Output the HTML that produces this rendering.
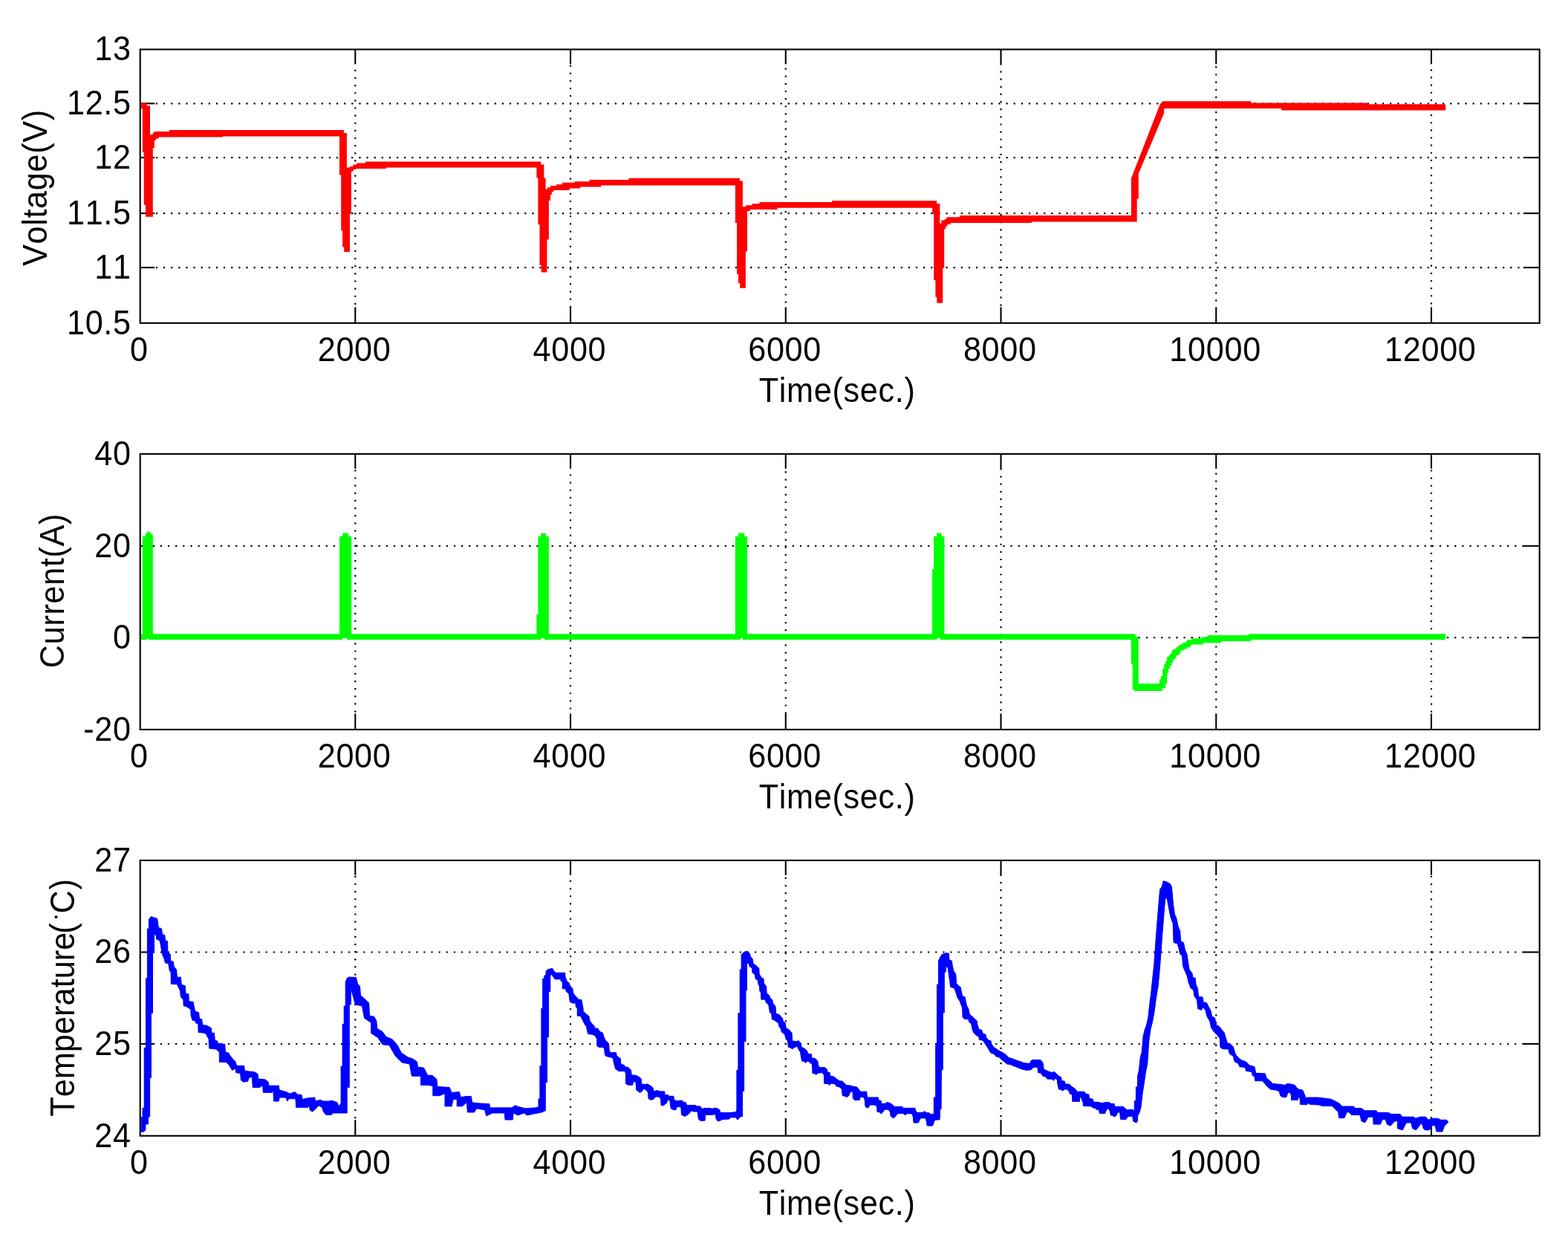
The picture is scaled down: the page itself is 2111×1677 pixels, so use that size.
<!DOCTYPE html>
<html><head><meta charset="utf-8"><title>Battery test: voltage, current, temperature</title>
<style>
html,body{margin:0;padding:0;background:#fff;overflow:hidden;}
svg{display:block;}
text{font-family:"Liberation Sans",sans-serif;font-size:47.0px;fill:#000;font-kerning:none;letter-spacing:0.72px;}
.a{stroke:#000;stroke-width:2.10;}
.g{stroke:#000;stroke-width:2.20;stroke-dasharray:2.20 7.93;}
</style></head><body>
<svg width="2111" height="1677" viewBox="0 0 2111 1677">
<rect width="2111" height="1677" fill="#fff"/>
<line x1="208.00" y1="139.30" x2="2051.20" y2="139.30" class="g" stroke-dashoffset="8.30"/>
<line x1="208.00" y1="212.10" x2="2051.20" y2="212.10" class="g" stroke-dashoffset="8.30"/>
<line x1="208.00" y1="287.10" x2="2051.20" y2="287.10" class="g" stroke-dashoffset="8.30"/>
<line x1="208.00" y1="360.10" x2="2051.20" y2="360.10" class="g" stroke-dashoffset="8.30"/>
<line x1="478.30" y1="86.00" x2="478.30" y2="413.70" class="g" stroke-dashoffset="2.38"/>
<line x1="768.04" y1="86.00" x2="768.04" y2="413.70" class="g" stroke-dashoffset="8.56"/>
<line x1="1057.78" y1="86.00" x2="1057.78" y2="413.70" class="g" stroke-dashoffset="4.61"/>
<line x1="1347.52" y1="86.00" x2="1347.52" y2="413.70" class="g" stroke-dashoffset="0.66"/>
<line x1="1637.26" y1="86.00" x2="1637.26" y2="413.70" class="g" stroke-dashoffset="6.84"/>
<line x1="1927.00" y1="86.00" x2="1927.00" y2="413.70" class="g" stroke-dashoffset="2.89"/>
<line x1="188.7" y1="139.30" x2="208.2" y2="139.30" class="a"/>
<line x1="2051.0" y1="139.30" x2="2072.7" y2="139.30" class="a"/>
<line x1="188.7" y1="212.10" x2="208.2" y2="212.10" class="a"/>
<line x1="2051.0" y1="212.10" x2="2072.7" y2="212.10" class="a"/>
<line x1="188.7" y1="287.10" x2="208.2" y2="287.10" class="a"/>
<line x1="2051.0" y1="287.10" x2="2072.7" y2="287.10" class="a"/>
<line x1="188.7" y1="360.10" x2="208.2" y2="360.10" class="a"/>
<line x1="2051.0" y1="360.10" x2="2072.7" y2="360.10" class="a"/>
<line x1="478.30" y1="66.5" x2="478.30" y2="86.3" class="a"/>
<line x1="478.30" y1="413.4" x2="478.30" y2="434.8" class="a"/>
<line x1="768.04" y1="66.5" x2="768.04" y2="86.3" class="a"/>
<line x1="768.04" y1="413.4" x2="768.04" y2="434.8" class="a"/>
<line x1="1057.78" y1="66.5" x2="1057.78" y2="86.3" class="a"/>
<line x1="1057.78" y1="413.4" x2="1057.78" y2="434.8" class="a"/>
<line x1="1347.52" y1="66.5" x2="1347.52" y2="86.3" class="a"/>
<line x1="1347.52" y1="413.4" x2="1347.52" y2="434.8" class="a"/>
<line x1="1637.26" y1="66.5" x2="1637.26" y2="86.3" class="a"/>
<line x1="1637.26" y1="413.4" x2="1637.26" y2="434.8" class="a"/>
<line x1="1927.00" y1="66.5" x2="1927.00" y2="86.3" class="a"/>
<line x1="1927.00" y1="413.4" x2="1927.00" y2="434.8" class="a"/>
<rect x="188.7" y="66.5" width="1884.0" height="368.3" fill="none" class="a"/>
<line x1="208.00" y1="734.80" x2="2051.20" y2="734.80" class="g" stroke-dashoffset="2.28"/>
<line x1="208.00" y1="858.20" x2="2051.20" y2="858.20" class="g" stroke-dashoffset="2.28"/>
<line x1="478.30" y1="630.50" x2="478.30" y2="960.80" class="g" stroke-dashoffset="8.34"/>
<line x1="768.04" y1="630.50" x2="768.04" y2="960.80" class="g" stroke-dashoffset="2.24"/>
<line x1="1057.78" y1="630.50" x2="1057.78" y2="960.80" class="g" stroke-dashoffset="6.27"/>
<line x1="1347.52" y1="630.50" x2="1347.52" y2="960.80" class="g" stroke-dashoffset="0.17"/>
<line x1="1637.26" y1="630.50" x2="1637.26" y2="960.80" class="g" stroke-dashoffset="4.20"/>
<line x1="1927.00" y1="630.50" x2="1927.00" y2="960.80" class="g" stroke-dashoffset="8.23"/>
<line x1="188.7" y1="734.80" x2="208.2" y2="734.80" class="a"/>
<line x1="2051.0" y1="734.80" x2="2072.7" y2="734.80" class="a"/>
<line x1="188.7" y1="858.20" x2="208.2" y2="858.20" class="a"/>
<line x1="2051.0" y1="858.20" x2="2072.7" y2="858.20" class="a"/>
<line x1="478.30" y1="611.0" x2="478.30" y2="630.8" class="a"/>
<line x1="478.30" y1="960.5" x2="478.30" y2="981.9" class="a"/>
<line x1="768.04" y1="611.0" x2="768.04" y2="630.8" class="a"/>
<line x1="768.04" y1="960.5" x2="768.04" y2="981.9" class="a"/>
<line x1="1057.78" y1="611.0" x2="1057.78" y2="630.8" class="a"/>
<line x1="1057.78" y1="960.5" x2="1057.78" y2="981.9" class="a"/>
<line x1="1347.52" y1="611.0" x2="1347.52" y2="630.8" class="a"/>
<line x1="1347.52" y1="960.5" x2="1347.52" y2="981.9" class="a"/>
<line x1="1637.26" y1="611.0" x2="1637.26" y2="630.8" class="a"/>
<line x1="1637.26" y1="960.5" x2="1637.26" y2="981.9" class="a"/>
<line x1="1927.00" y1="611.0" x2="1927.00" y2="630.8" class="a"/>
<line x1="1927.00" y1="960.5" x2="1927.00" y2="981.9" class="a"/>
<rect x="188.7" y="611.0" width="1884.0" height="370.9" fill="none" class="a"/>
<line x1="208.00" y1="1281.50" x2="2051.20" y2="1281.50" class="g" stroke-dashoffset="2.35"/>
<line x1="208.00" y1="1405.00" x2="2051.20" y2="1405.00" class="g" stroke-dashoffset="2.35"/>
<line x1="478.30" y1="1177.50" x2="478.30" y2="1507.60" class="g" stroke-dashoffset="8.86"/>
<line x1="768.04" y1="1177.50" x2="768.04" y2="1507.60" class="g" stroke-dashoffset="2.76"/>
<line x1="1057.78" y1="1177.50" x2="1057.78" y2="1507.60" class="g" stroke-dashoffset="6.79"/>
<line x1="1347.52" y1="1177.50" x2="1347.52" y2="1507.60" class="g" stroke-dashoffset="0.69"/>
<line x1="1637.26" y1="1177.50" x2="1637.26" y2="1507.60" class="g" stroke-dashoffset="4.72"/>
<line x1="1927.00" y1="1177.50" x2="1927.00" y2="1507.60" class="g" stroke-dashoffset="8.75"/>
<line x1="188.7" y1="1281.50" x2="208.2" y2="1281.50" class="a"/>
<line x1="2051.0" y1="1281.50" x2="2072.7" y2="1281.50" class="a"/>
<line x1="188.7" y1="1405.00" x2="208.2" y2="1405.00" class="a"/>
<line x1="2051.0" y1="1405.00" x2="2072.7" y2="1405.00" class="a"/>
<line x1="478.30" y1="1158.0" x2="478.30" y2="1177.8" class="a"/>
<line x1="478.30" y1="1507.3" x2="478.30" y2="1528.7" class="a"/>
<line x1="768.04" y1="1158.0" x2="768.04" y2="1177.8" class="a"/>
<line x1="768.04" y1="1507.3" x2="768.04" y2="1528.7" class="a"/>
<line x1="1057.78" y1="1158.0" x2="1057.78" y2="1177.8" class="a"/>
<line x1="1057.78" y1="1507.3" x2="1057.78" y2="1528.7" class="a"/>
<line x1="1347.52" y1="1158.0" x2="1347.52" y2="1177.8" class="a"/>
<line x1="1347.52" y1="1507.3" x2="1347.52" y2="1528.7" class="a"/>
<line x1="1637.26" y1="1158.0" x2="1637.26" y2="1177.8" class="a"/>
<line x1="1637.26" y1="1507.3" x2="1637.26" y2="1528.7" class="a"/>
<line x1="1927.00" y1="1158.0" x2="1927.00" y2="1177.8" class="a"/>
<line x1="1927.00" y1="1507.3" x2="1927.00" y2="1528.7" class="a"/>
<rect x="188.7" y="1158.0" width="1884.0" height="370.7" fill="none" class="a"/>
<path d="M189.9 138.5 L197.7 138.5 L197.7 142.3 L202.0 142.3 L202.0 181.2 L205.8 181.2 L205.8 178.5 L207.9 178.5 L207.9 176.9 L228.1 176.9 L228.1 175.0 L462.9 175.0 L462.9 179.0 L466.9 179.0 L466.9 225.5 L471.0 225.5 L471.0 223.9 L475.3 223.9 L475.3 221.4 L480.1 221.4 L480.1 219.6 L491.9 219.6 L491.9 217.5 L728.3 217.5 L728.3 221.5 L732.4 221.5 L732.4 239.6 L734.6 239.6 L734.6 254.4 L736.9 254.4 L736.9 252.3 L741.0 252.3 L741.0 250.1 L749.0 250.1 L749.0 248.3 L757.1 248.3 L757.1 245.8 L773.7 245.8 L773.7 244.2 L793.6 244.2 L793.6 242.1 L846.6 242.1 L846.6 239.7 L996.0 239.7 L996.0 243.6 L999.9 243.6 L999.9 278.3 L1004.2 278.3 L1004.2 276.2 L1012.3 276.2 L1012.3 274.2 L1022.5 274.2 L1022.5 272.1 L1120.2 272.1 L1120.2 270.3 L1261.2 270.3 L1261.2 274.1 L1265.3 274.1 L1265.3 300.7 L1267.4 300.7 L1267.4 296.4 L1271.7 296.4 L1271.7 294.8 L1274.4 294.8 L1274.4 292.3 L1292.1 292.3 L1292.1 290.1 L1522.9 290.1 L1522.9 240.2 L1561.6 140.4 L1565.4 136.3 L1565.4 136.3 L1684.5 136.3 L1684.5 138.5 L1842.3 138.5 L1842.3 140.3 L1946.2 140.3 L1946.2 140.3 L1946.2 148.5 L1946.2 148.5 L1725.3 148.5 L1725.3 146.1 L1567.2 146.1 L1567.2 146.1 L1567.2 152.2 L1532.8 233.8 L1532.8 267.6 L1530.7 267.6 L1530.7 298.4 L1388.8 298.4 L1388.8 300.1 L1279.8 300.1 L1279.8 302.1 L1275.5 302.1 L1275.5 304.4 L1273.3 304.4 L1273.3 308.2 L1271.2 308.2 L1271.2 360.8 L1269.3 360.8 L1269.3 407.7 L1261.3 407.7 L1261.3 399.8 L1259.4 399.8 L1259.4 376.9 L1257.2 376.9 L1257.2 287.8 L1255.1 287.8 L1255.1 279.7 L1046.6 279.7 L1046.6 281.9 L1010.1 281.9 L1010.1 283.9 L1006.0 283.9 L1006.0 338.6 L1003.9 338.6 L1003.9 387.8 L996.2 387.8 L996.2 381.0 L994.0 381.0 L994.0 369.0 L992.1 369.0 L992.1 300.0 L989.9 300.0 L989.9 249.6 L809.2 249.6 L809.2 251.5 L781.3 251.5 L781.3 253.6 L766.8 253.6 L766.8 256.0 L745.3 256.0 L745.3 258.2 L742.9 258.2 L742.9 261.9 L741.0 261.9 L741.0 270.0 L738.9 270.0 L738.9 322.6 L736.4 322.6 L736.4 366.6 L728.7 366.6 L728.7 357.0 L726.5 357.0 L726.5 302.2 L724.4 302.2 L724.4 239.4 L722.4 239.4 L722.4 225.4 L519.8 225.4 L519.8 227.1 L477.0 227.1 L477.0 228.7 L475.0 228.7 L475.0 230.9 L472.9 230.9 L472.9 287.8 L471.0 287.8 L471.0 338.9 L463.2 338.9 L463.2 332.6 L461.1 332.6 L461.1 310.3 L459.2 310.3 L459.2 235.5 L457.0 235.5 L457.0 183.5 L300.0 183.5 L300.0 184.6 L213.8 184.6 L213.8 186.6 L210.1 186.6 L210.1 188.7 L207.9 188.7 L207.9 198.9 L205.8 198.9 L205.8 291.8 L195.9 291.8 L195.9 275.7 L193.7 275.7 L193.7 204.8 L191.8 204.8 L191.8 146.3 L189.9 146.3 Z" fill="#ff0000"/>
<path d="M189.9 853.3 L191.8 853.3 L191.8 721.8 L195.9 721.8 L195.9 717.7 L198.0 717.7 L198.0 715.6 L202.0 715.6 L202.0 717.7 L203.8 717.7 L203.8 719.6 L205.8 719.6 L205.8 853.3 L457.0 853.3 L457.0 721.8 L461.1 721.8 L461.1 717.4 L469.2 717.4 L469.2 721.8 L473.1 721.8 L473.1 853.3 L722.4 853.3 L722.4 827.0 L724.4 827.0 L724.4 721.8 L728.4 721.8 L728.4 717.4 L734.9 717.4 L734.9 721.8 L738.9 721.8 L738.9 853.3 L989.9 853.3 L989.9 721.8 L994.0 721.8 L994.0 717.4 L1002.1 717.4 L1002.1 721.8 L1006.0 721.8 L1006.0 853.3 L1255.1 853.3 L1255.1 766.0 L1257.2 766.0 L1257.2 721.8 L1261.2 721.8 L1261.2 717.4 L1267.7 717.4 L1267.7 721.8 L1271.4 721.8 L1271.4 853.3 L1528.7 853.3 L1528.7 857.0 L1532.7 857.0 L1532.7 920.0 L1561.0 920.0 L1561.0 914.3 L1563.1 914.3 L1563.1 910.0 L1565.1 910.0 L1565.1 900.1 L1567.2 900.1 L1567.2 894.0 L1569.2 894.0 L1569.2 889.8 L1571.2 889.8 L1571.2 883.7 L1573.5 883.7 L1573.5 881.9 L1575.2 881.9 L1575.2 879.8 L1577.4 879.8 L1577.4 875.5 L1579.5 875.5 L1579.5 873.4 L1583.4 873.4 L1583.4 871.3 L1585.5 871.3 L1585.5 869.5 L1587.7 869.5 L1587.7 867.4 L1591.9 867.4 L1591.9 865.2 L1595.8 865.2 L1595.8 863.5 L1598.0 863.5 L1598.0 861.3 L1604.0 861.3 L1604.0 859.2 L1617.9 859.2 L1617.9 857.2 L1626.0 857.2 L1626.0 855.1 L1680.8 855.1 L1680.8 853.3 L1946.2 853.3 L1946.2 853.3 L1946.2 861.0 L1946.2 861.0 L1684.7 861.0 L1684.7 863.1 L1644.2 863.1 L1644.2 865.2 L1620.0 865.2 L1620.0 867.6 L1604.0 867.6 L1604.0 869.5 L1601.9 869.5 L1601.9 871.6 L1597.6 871.6 L1597.6 873.8 L1593.7 873.8 L1593.7 875.5 L1589.4 875.5 L1589.4 879.8 L1587.3 879.8 L1587.3 881.9 L1583.4 881.9 L1583.4 885.8 L1581.3 885.8 L1581.3 888.0 L1579.3 888.0 L1579.3 891.9 L1577.4 891.9 L1577.4 895.9 L1575.2 895.9 L1575.2 899.9 L1573.2 899.9 L1573.2 906.0 L1571.2 906.0 L1571.2 920.0 L1569.2 920.0 L1569.2 926.0 L1565.1 926.0 L1565.1 930.0 L1526.5 930.0 L1526.5 928.0 L1524.8 928.0 L1524.8 893.5 L1522.8 893.5 L1522.8 861.0 L1265.8 861.0 L1265.8 859.0 L1261.2 859.0 L1261.2 861.0 L999.9 861.0 L999.9 859.0 L996.0 859.0 L996.0 861.0 L732.9 861.0 L732.9 859.0 L728.4 859.0 L728.4 861.0 L467.2 861.0 L467.2 859.0 L461.1 859.0 L461.1 861.0 L199.9 861.0 L199.9 859.2 L197.7 859.2 L197.7 861.0 L189.9 861.0 Z" fill="#00ff00"/>
<path d="M190.3 1503.5 L192.0 1503.5 L192.0 1491.3 L194.2 1491.3 L194.2 1410.3 L196.4 1410.3 L196.4 1316.8 L198.4 1316.8 L198.4 1250.0 L200.4 1250.0 L200.4 1237.5 L203.4 1233.7 L211.7 1236.4 L213.4 1248.4 L217.6 1250.0 L218.4 1257.6 L221.7 1258.4 L222.6 1265.9 L225.6 1266.7 L225.9 1281.8 L229.2 1284.3 L229.7 1293.4 L233.4 1294.3 L234.2 1301.0 L237.6 1305.1 L238.4 1315.2 L243.4 1315.2 L244.3 1325.2 L249.3 1326.8 L250.1 1337.7 L253.9 1337.7 L254.3 1347.7 L260.1 1348.5 L261.0 1353.5 L262.6 1361.1 L267.6 1362.7 L268.5 1371.1 L271.8 1371.9 L272.6 1379.4 L278.5 1380.3 L284.3 1383.6 L285.2 1390.3 L288.5 1390.3 L289.3 1400.3 L292.7 1401.1 L293.5 1404.5 L302.7 1405.3 L303.5 1416.2 L307.7 1417.0 L309.4 1420.3 L312.7 1424.5 L316.9 1428.7 L318.6 1434.5 L328.6 1434.5 L329.4 1441.2 L335.3 1442.0 L342.8 1442.9 L346.9 1445.4 L347.8 1452.0 L357.0 1452.9 L361.1 1456.2 L362.0 1461.2 L375.3 1461.2 L376.2 1467.1 L385.3 1469.6 L390.3 1472.1 L397.0 1469.6 L400.4 1472.9 L406.2 1473.7 L407.0 1479.6 L414.5 1477.9 L423.7 1477.1 L424.6 1482.1 L431.2 1480.4 L435.4 1482.1 L442.9 1482.1 L447.1 1481.3 L453.8 1483.8 L455.5 1487.9 L458.0 1487.9 L458.0 1485.8 L459.1 1485.8 L459.1 1435.2 L461.1 1435.2 L461.1 1378.4 L463.2 1378.4 L463.2 1354.1 L465.2 1354.1 L465.2 1321.6 L467.2 1316.6 L470.3 1315.1 L479.4 1315.5 L481.4 1323.7 L484.5 1327.7 L485.5 1339.9 L490.5 1343.9 L496.6 1350.0 L497.6 1367.2 L503.7 1368.3 L506.8 1374.3 L507.8 1384.5 L514.9 1388.5 L519.9 1395.6 L528.0 1398.7 L535.1 1406.8 L540.2 1416.9 L549.3 1423.0 L555.4 1425.0 L561.5 1429.1 L562.5 1436.2 L570.6 1437.2 L575.7 1447.3 L581.8 1447.3 L587.8 1452.4 L588.9 1462.5 L605.1 1463.5 L608.1 1470.6 L618.3 1469.6 L620.3 1476.7 L626.4 1475.7 L634.5 1475.7 L635.5 1483.8 L642.6 1484.8 L658.8 1485.8 L659.8 1490.9 L689.2 1490.9 L693.3 1487.9 L699.3 1489.9 L707.4 1491.9 L721.6 1490.9 L722.0 1490.2 L722.0 1490.4 L725.0 1490.4 L725.0 1478.9 L726.9 1478.9 L726.9 1434.6 L728.9 1434.6 L728.9 1357.3 L730.7 1357.3 L730.7 1317.2 L732.9 1317.2 L732.9 1312.9 L735.0 1312.9 L735.0 1307.2 L737.2 1305.0 L743.6 1303.2 L745.8 1307.2 L748.6 1309.3 L760.8 1309.3 L760.8 1313.6 L762.9 1320.1 L766.5 1323.6 L767.2 1328.6 L770.8 1330.1 L771.5 1335.8 L773.7 1339.4 L776.5 1342.2 L778.7 1345.1 L783.0 1345.8 L783.7 1350.1 L785.1 1357.3 L785.1 1360.8 L788.7 1364.4 L793.0 1368.0 L793.7 1373.0 L795.9 1376.6 L799.4 1380.2 L801.6 1384.5 L804.4 1383.7 L808.0 1388.8 L811.6 1390.2 L813.0 1395.9 L815.2 1400.2 L819.5 1404.5 L820.2 1413.1 L821.6 1416.7 L829.5 1416.7 L830.2 1421.0 L835.2 1424.5 L835.9 1432.4 L839.5 1433.1 L842.4 1436.0 L845.9 1436.7 L849.5 1440.3 L850.2 1446.7 L856.0 1447.4 L859.5 1448.9 L863.1 1451.7 L863.8 1458.9 L868.8 1459.6 L871.7 1458.9 L875.3 1461.0 L878.9 1463.9 L880.3 1468.9 L884.6 1467.5 L888.2 1468.9 L894.6 1468.9 L895.3 1474.6 L898.2 1473.2 L901.1 1475.3 L906.8 1475.3 L907.5 1480.4 L911.1 1481.8 L918.2 1481.1 L919.7 1483.2 L923.2 1483.9 L924.7 1487.5 L933.3 1487.5 L936.1 1487.5 L938.3 1488.9 L942.6 1488.9 L945.4 1492.5 L948.3 1491.5 L956.2 1491.5 L959.0 1492.5 L961.9 1491.1 L965.5 1491.8 L969.0 1494.0 L969.7 1497.5 L977.6 1497.5 L981.9 1497.5 L990.5 1496.8 L991.5 1494.7 L991.5 1496.4 L991.9 1496.4 L991.9 1440.5 L993.9 1440.5 L993.9 1363.8 L996.2 1363.8 L996.2 1304.9 L998.1 1304.9 L998.1 1284.7 L1002.4 1280.9 L1006.3 1280.5 L1009.4 1283.2 L1010.2 1287.1 L1013.3 1290.9 L1014.0 1297.1 L1017.9 1299.5 L1021.8 1303.3 L1022.2 1311.1 L1024.9 1315.7 L1028.0 1317.3 L1028.4 1323.5 L1031.6 1327.4 L1032.2 1336.7 L1035.7 1339.8 L1036.5 1342.9 L1039.9 1346.0 L1040.4 1349.8 L1044.0 1354.5 L1044.6 1363.8 L1049.7 1366.1 L1053.6 1370.8 L1054.3 1374.7 L1057.4 1377.0 L1058.2 1384.0 L1062.1 1385.5 L1066.0 1390.2 L1066.7 1401.0 L1072.9 1401.8 L1074.5 1400.2 L1078.4 1404.1 L1079.1 1409.5 L1083.0 1411.1 L1086.9 1415.0 L1087.4 1418.1 L1092.3 1418.8 L1093.1 1424.3 L1097.0 1424.3 L1100.9 1428.1 L1101.3 1432.8 L1103.2 1436.7 L1110.2 1436.7 L1113.3 1439.0 L1114.0 1442.9 L1117.1 1443.6 L1117.9 1448.3 L1122.6 1449.1 L1126.4 1452.2 L1129.5 1454.5 L1134.2 1455.3 L1136.5 1457.6 L1139.6 1460.7 L1145.0 1461.0 L1148.1 1462.2 L1153.6 1463.0 L1157.4 1467.7 L1158.2 1469.2 L1166.7 1469.2 L1167.5 1477.0 L1182.2 1477.0 L1183.0 1480.9 L1186.1 1481.6 L1186.9 1485.5 L1191.6 1485.2 L1194.7 1483.6 L1200.1 1485.5 L1203.2 1488.6 L1204.0 1489.4 L1214.8 1489.4 L1215.6 1491.4 L1231.9 1491.4 L1232.6 1494.8 L1235.0 1497.6 L1243.5 1497.1 L1244.3 1495.6 L1247.4 1497.6 L1251.2 1497.9 L1252.0 1499.5 L1257.0 1499.5 L1257.0 1499.5 L1257.3 1499.5 L1257.3 1477.0 L1259.7 1477.0 L1259.7 1404.1 L1261.5 1404.1 L1261.5 1325.0 L1263.5 1325.0 L1263.5 1293.3 L1265.5 1288.6 L1268.2 1284.7 L1273.6 1282.7 L1277.5 1283.2 L1277.9 1291.7 L1281.4 1293.3 L1282.1 1298.7 L1283.7 1306.4 L1286.8 1311.1 L1287.6 1323.5 L1290.3 1326.6 L1293.4 1328.9 L1294.1 1333.6 L1295.6 1340.5 L1299.2 1342.1 L1300.0 1346.7 L1301.5 1353.7 L1303.8 1357.6 L1305.4 1365.3 L1309.3 1368.4 L1312.4 1371.6 L1315.2 1373.9 L1315.8 1378.5 L1317.8 1385.5 L1321.7 1386.3 L1323.2 1390.9 L1327.1 1392.5 L1327.9 1396.4 L1331.0 1400.2 L1334.1 1401.0 L1334.8 1404.9 L1337.9 1409.5 L1341.8 1411.9 L1344.9 1414.2 L1349.6 1416.5 L1353.4 1418.8 L1358.1 1423.5 L1363.5 1425.0 L1369.0 1427.4 L1374.4 1428.9 L1377.5 1430.5 L1382.9 1431.2 L1386.8 1431.2 L1387.6 1428.1 L1389.9 1426.6 L1400.7 1426.6 L1403.1 1428.9 L1404.6 1432.8 L1405.1 1439.0 L1408.5 1440.5 L1411.6 1442.1 L1416.2 1443.6 L1419.3 1442.4 L1422.4 1445.2 L1425.5 1448.3 L1428.6 1449.8 L1429.4 1454.5 L1433.3 1455.3 L1434.1 1459.1 L1439.5 1459.1 L1442.6 1462.2 L1447.2 1465.3 L1450.3 1469.2 L1459.7 1469.2 L1462.0 1472.3 L1465.9 1473.1 L1466.6 1478.5 L1471.3 1479.3 L1472.1 1483.2 L1479.8 1483.6 L1482.9 1484.7 L1489.1 1483.6 L1494.5 1484.0 L1495.3 1485.5 L1500.0 1485.5 L1500.7 1489.4 L1512.4 1489.4 L1515.5 1492.5 L1517.8 1494.0 L1524.8 1493.3 L1527.1 1495.6 L1527.4 1481.6 L1529.4 1481.6 L1529.4 1463.0 L1531.3 1463.0 L1531.5 1453.6 L1531.5 1448.9 L1533.4 1440.5 L1535.3 1422.4 L1537.2 1416.6 L1539.1 1394.7 L1541.4 1385.2 L1543.3 1380.4 L1545.8 1369.9 L1547.7 1351.8 L1549.6 1337.4 L1551.5 1319.3 L1553.8 1297.4 L1555.7 1270.6 L1557.6 1245.8 L1559.5 1222.0 L1561.6 1197.2 L1564.3 1193.4 L1566.2 1185.7 L1570.0 1186.7 L1575.3 1189.5 L1577.3 1193.4 L1578.2 1201.9 L1579.5 1217.2 L1581.5 1230.6 L1583.9 1236.3 L1585.8 1245.8 L1588.7 1253.5 L1589.7 1266.8 L1593.5 1268.7 L1595.4 1278.3 L1598.2 1285.0 L1599.2 1292.6 L1601.1 1305.0 L1604.9 1309.8 L1605.9 1315.5 L1609.3 1316.5 L1610.1 1325.0 L1612.6 1330.8 L1613.5 1341.3 L1619.2 1342.2 L1620.2 1348.9 L1624.6 1349.8 L1626.9 1354.6 L1629.7 1359.4 L1631.6 1368.0 L1635.5 1369.9 L1637.4 1379.4 L1641.2 1381.3 L1645.0 1386.1 L1648.2 1389.9 L1650.7 1398.5 L1652.6 1404.2 L1656.5 1405.2 L1660.3 1409.0 L1663.1 1418.5 L1666.9 1423.3 L1671.7 1427.1 L1677.4 1429.0 L1682.2 1433.8 L1688.9 1435.7 L1690.8 1444.3 L1703.2 1444.9 L1705.1 1451.0 L1709.9 1454.8 L1713.7 1458.6 L1724.2 1459.6 L1729.9 1460.5 L1732.8 1458.6 L1737.6 1459.0 L1743.3 1460.5 L1746.1 1464.4 L1749.0 1466.3 L1753.8 1467.2 L1756.6 1473.9 L1757.6 1477.7 L1760.0 1477.7 L1760.0 1477.1 L1774.6 1477.1 L1791.3 1479.2 L1796.0 1481.3 L1800.1 1483.4 L1803.8 1485.5 L1806.4 1489.1 L1822.5 1489.1 L1824.6 1491.7 L1833.0 1491.7 L1837.1 1494.8 L1852.8 1494.8 L1854.8 1497.4 L1868.9 1497.4 L1873.1 1499.5 L1885.1 1499.5 L1887.7 1503.2 L1903.3 1503.2 L1905.9 1505.3 L1912.2 1503.2 L1919.5 1503.2 L1922.6 1507.3 L1927.8 1505.3 L1935.6 1505.3 L1939.8 1507.3 L1947.6 1507.3 L1949.7 1510.0 L1949.7 1510.5 L1944.5 1515.7 L1941.9 1523.0 L1934.0 1523.0 L1932.0 1514.6 L1928.8 1514.6 L1924.1 1520.9 L1918.4 1520.9 L1916.3 1518.8 L1914.2 1511.0 L1906.4 1520.9 L1901.7 1518.8 L1899.7 1511.0 L1893.4 1511.0 L1888.2 1520.9 L1881.4 1518.8 L1881.4 1508.9 L1877.8 1508.9 L1872.0 1515.2 L1867.3 1513.1 L1865.3 1506.8 L1861.1 1506.8 L1858.5 1513.1 L1849.1 1513.1 L1848.6 1503.2 L1842.3 1503.2 L1837.6 1511.0 L1833.0 1508.9 L1830.9 1500.6 L1819.4 1500.6 L1816.3 1496.9 L1813.2 1496.9 L1810.0 1504.7 L1802.7 1504.7 L1801.7 1496.9 L1793.4 1488.6 L1779.8 1488.6 L1776.2 1487.0 L1764.2 1486.5 L1760.0 1484.4 L1760.0 1486.3 L1758.5 1486.9 L1750.5 1486.3 L1750.0 1477.7 L1748.1 1476.8 L1747.1 1480.6 L1738.5 1480.6 L1738.5 1474.8 L1736.6 1470.1 L1733.7 1471.0 L1731.8 1476.8 L1727.1 1476.8 L1723.8 1474.8 L1722.3 1469.1 L1718.5 1467.2 L1710.8 1466.3 L1706.1 1462.4 L1702.3 1457.7 L1699.4 1454.8 L1689.8 1454.8 L1688.9 1449.1 L1686.0 1447.2 L1685.1 1442.4 L1677.4 1441.5 L1676.5 1436.7 L1668.9 1435.7 L1666.9 1431.0 L1662.2 1429.0 L1660.3 1421.4 L1655.5 1418.5 L1653.6 1411.9 L1646.9 1411.9 L1643.1 1410.0 L1642.1 1397.6 L1639.3 1393.7 L1634.5 1389.0 L1630.7 1383.2 L1628.8 1374.7 L1625.0 1368.0 L1623.1 1360.3 L1620.2 1355.6 L1617.3 1359.4 L1612.6 1357.5 L1611.6 1346.0 L1607.8 1340.3 L1606.8 1332.7 L1603.0 1329.8 L1600.2 1322.2 L1598.2 1313.6 L1595.4 1306.9 L1592.5 1300.2 L1591.6 1286.9 L1588.7 1284.0 L1586.8 1275.4 L1584.9 1269.7 L1580.1 1268.7 L1579.2 1243.0 L1576.3 1235.3 L1574.4 1226.8 L1571.1 1208.6 L1568.7 1209.6 L1566.8 1232.5 L1564.8 1257.3 L1562.9 1284.0 L1561.0 1307.9 L1559.1 1327.9 L1556.3 1344.1 L1554.4 1359.4 L1551.5 1375.6 L1549.0 1385.2 L1546.7 1402.3 L1544.8 1431.9 L1542.5 1442.4 L1540.6 1455.8 L1538.1 1472.0 L1536.2 1489.2 L1534.3 1496.8 L1531.5 1502.4 L1531.5 1509.2 L1529.4 1511.1 L1525.5 1508.8 L1524.8 1502.2 L1518.6 1502.6 L1517.0 1504.9 L1515.5 1506.9 L1508.5 1506.4 L1507.7 1497.1 L1504.6 1497.1 L1503.1 1501.0 L1500.0 1503.3 L1499.2 1501.8 L1495.3 1501.0 L1494.5 1496.4 L1493.0 1492.5 L1490.7 1492.5 L1489.1 1494.8 L1487.6 1498.7 L1480.6 1498.7 L1479.0 1493.3 L1475.9 1493.3 L1475.2 1491.7 L1471.3 1490.9 L1469.0 1488.9 L1458.4 1488.6 L1458.1 1483.2 L1456.6 1480.9 L1455.8 1477.0 L1453.8 1477.0 L1453.4 1482.4 L1443.8 1482.4 L1443.4 1473.1 L1440.3 1472.3 L1439.5 1469.2 L1436.4 1466.1 L1432.5 1466.1 L1431.0 1468.4 L1429.4 1466.9 L1425.5 1466.1 L1424.0 1459.9 L1423.2 1452.9 L1420.1 1451.4 L1418.6 1454.5 L1416.2 1452.2 L1410.0 1452.2 L1407.7 1449.1 L1403.8 1448.3 L1401.5 1444.4 L1397.6 1443.6 L1396.9 1436.2 L1390.7 1436.7 L1388.3 1439.8 L1382.1 1440.5 L1379.0 1439.8 L1373.6 1438.2 L1368.2 1435.9 L1363.5 1434.3 L1360.4 1432.8 L1355.8 1432.0 L1351.9 1428.9 L1348.0 1425.8 L1344.9 1422.7 L1341.0 1421.9 L1338.7 1418.8 L1334.1 1417.3 L1332.5 1415.0 L1329.4 1409.5 L1326.3 1404.9 L1323.2 1400.2 L1318.6 1399.5 L1317.8 1395.6 L1313.1 1392.5 L1310.5 1389.4 L1308.5 1383.2 L1307.7 1377.8 L1304.6 1375.4 L1303.8 1371.6 L1298.4 1371.6 L1296.1 1369.2 L1295.6 1356.8 L1292.2 1347.5 L1289.1 1342.9 L1286.8 1335.1 L1284.5 1329.7 L1279.8 1328.6 L1278.3 1318.1 L1275.9 1301.8 L1273.6 1301.0 L1273.3 1308.0 L1271.3 1308.8 L1271.3 1363.0 L1269.3 1363.0 L1269.3 1439.8 L1267.4 1439.8 L1267.1 1492.5 L1265.5 1492.5 L1265.1 1506.9 L1259.7 1507.2 L1257.3 1509.5 L1257.0 1509.9 L1257.0 1512.5 L1255.1 1515.3 L1248.1 1515.0 L1247.4 1509.5 L1245.8 1504.9 L1239.6 1504.9 L1238.1 1507.2 L1236.5 1511.1 L1230.0 1511.1 L1229.5 1504.1 L1228.0 1499.1 L1221.0 1498.7 L1218.7 1501.0 L1216.4 1498.7 L1208.6 1498.7 L1206.3 1501.8 L1203.2 1504.9 L1199.3 1502.6 L1198.5 1497.1 L1196.2 1493.3 L1190.8 1493.3 L1188.4 1497.1 L1186.1 1499.1 L1184.6 1497.1 L1181.0 1496.4 L1180.7 1490.2 L1178.4 1487.1 L1170.6 1487.1 L1169.8 1490.2 L1166.7 1490.9 L1164.9 1488.6 L1164.4 1480.9 L1162.9 1477.0 L1158.2 1476.2 L1157.4 1480.5 L1151.2 1480.9 L1148.4 1478.5 L1148.1 1469.2 L1145.0 1469.2 L1142.7 1474.7 L1139.6 1477.0 L1138.1 1475.4 L1134.2 1474.7 L1133.4 1466.1 L1130.3 1463.0 L1126.4 1462.2 L1123.3 1458.4 L1118.7 1458.4 L1116.4 1460.7 L1115.6 1458.8 L1109.7 1458.4 L1109.4 1446.7 L1106.3 1443.6 L1100.9 1444.4 L1098.5 1446.7 L1097.8 1445.2 L1093.9 1444.4 L1093.6 1432.8 L1090.8 1430.5 L1087.7 1428.1 L1084.6 1430.5 L1083.8 1428.9 L1079.6 1428.1 L1078.4 1421.9 L1077.6 1416.5 L1075.3 1412.6 L1072.9 1408.0 L1069.1 1410.3 L1066.0 1411.9 L1065.2 1410.3 L1061.3 1409.5 L1060.5 1401.0 L1058.2 1398.7 L1057.4 1394.0 L1055.9 1391.7 L1052.0 1388.6 L1051.2 1384.7 L1048.9 1381.6 L1048.1 1377.0 L1043.5 1373.9 L1039.3 1371.6 L1038.8 1364.6 L1036.5 1363.0 L1035.3 1355.3 L1034.7 1352.2 L1031.1 1349.1 L1030.3 1345.2 L1024.9 1345.2 L1024.4 1335.9 L1022.9 1334.3 L1022.6 1328.1 L1021.0 1324.3 L1020.2 1319.6 L1017.1 1317.3 L1016.4 1311.9 L1012.9 1308.8 L1012.5 1303.3 L1008.6 1300.2 L1008.3 1296.7 L1005.5 1296.4 L1005.5 1332.8 L1004.0 1332.8 L1004.0 1401.8 L1001.6 1401.8 L1001.6 1468.4 L999.6 1468.4 L999.6 1502.6 L996.2 1503.3 L993.1 1507.2 L991.5 1505.6 L991.5 1504.0 L982.6 1504.0 L981.9 1506.1 L971.9 1506.8 L969.7 1508.3 L966.2 1509.0 L964.0 1505.4 L963.3 1499.7 L957.6 1500.4 L956.2 1500.4 L949.7 1500.4 L949.0 1508.3 L942.6 1508.3 L940.4 1506.1 L939.0 1496.1 L933.3 1496.1 L931.1 1494.7 L926.8 1499.7 L921.8 1502.5 L917.5 1500.4 L916.8 1489.7 L911.1 1489.7 L910.4 1493.2 L907.5 1494.0 L903.2 1491.8 L901.8 1481.1 L898.9 1480.4 L897.5 1484.6 L892.5 1488.2 L890.0 1487.5 L889.6 1478.9 L886.7 1476.1 L882.4 1476.1 L880.3 1478.9 L876.7 1480.4 L873.1 1478.9 L872.4 1470.3 L869.6 1466.8 L866.7 1465.3 L863.8 1469.6 L861.0 1470.3 L856.7 1466.8 L856.0 1456.0 L852.4 1456.0 L851.7 1460.3 L845.2 1460.3 L842.4 1458.2 L842.4 1444.6 L840.9 1441.7 L833.1 1441.7 L828.8 1438.8 L826.6 1431.7 L825.2 1423.8 L816.6 1421.7 L814.5 1420.2 L813.7 1411.7 L811.6 1409.5 L805.9 1409.5 L803.7 1407.4 L803.7 1398.8 L801.6 1394.5 L798.0 1392.3 L791.6 1391.6 L789.4 1381.6 L787.3 1378.7 L785.1 1374.4 L781.5 1367.3 L777.2 1367.3 L777.2 1357.3 L775.1 1354.4 L775.1 1350.1 L770.1 1350.1 L767.2 1347.2 L765.8 1337.2 L762.2 1334.4 L761.5 1330.8 L757.2 1330.8 L757.2 1320.8 L755.1 1320.8 L755.1 1317.9 L747.2 1317.9 L745.0 1315.0 L742.9 1311.5 L740.8 1312.9 L740.8 1334.4 L738.6 1334.4 L738.6 1395.9 L736.5 1395.9 L736.5 1456.7 L734.3 1456.7 L734.3 1494.7 L730.0 1496.8 L722.0 1498.5 L722.0 1498.4 L709.5 1501.0 L705.4 1498.0 L697.3 1501.0 L691.2 1498.0 L690.2 1507.1 L680.1 1507.1 L679.1 1498.0 L662.9 1498.0 L654.7 1502.0 L652.7 1493.9 L641.6 1491.9 L638.5 1497.0 L629.4 1497.0 L628.4 1483.8 L622.3 1488.9 L615.2 1488.9 L615.2 1479.7 L610.1 1479.7 L608.1 1488.9 L599.0 1488.9 L599.0 1471.6 L591.9 1474.7 L582.8 1474.7 L582.8 1461.5 L575.7 1460.5 L566.6 1460.5 L566.6 1448.3 L554.4 1448.3 L551.4 1432.1 L541.2 1430.1 L532.1 1421.0 L524.0 1406.8 L514.9 1405.8 L508.8 1396.6 L499.7 1390.6 L499.7 1376.4 L490.5 1370.3 L487.5 1354.1 L478.4 1352.0 L472.3 1329.7 L472.3 1352.0 L470.3 1352.0 L470.3 1463.5 L467.2 1463.5 L467.2 1498.0 L458.0 1498.0 L458.0 1498.0 L447.9 1498.0 L446.3 1500.5 L438.8 1500.5 L435.4 1496.3 L433.7 1490.4 L428.7 1487.9 L425.4 1492.1 L420.4 1496.3 L417.1 1493.8 L416.2 1487.1 L414.5 1490.4 L398.7 1490.4 L397.9 1478.8 L388.7 1478.8 L387.0 1482.1 L384.5 1477.1 L376.2 1477.1 L375.3 1482.1 L368.6 1482.1 L367.8 1467.9 L366.1 1470.4 L354.4 1470.4 L353.6 1460.4 L349.4 1463.7 L340.3 1463.7 L339.4 1449.5 L335.3 1450.4 L333.6 1455.4 L327.7 1456.2 L324.4 1453.7 L323.6 1444.5 L317.7 1443.7 L316.9 1437.9 L312.7 1440.4 L308.5 1433.7 L304.4 1429.5 L295.5 1429.5 L295.2 1416.2 L291.0 1412.0 L281.8 1411.1 L281.0 1398.6 L277.7 1391.9 L275.2 1390.3 L267.1 1389.4 L266.8 1377.8 L263.5 1376.9 L262.6 1373.6 L259.3 1373.6 L257.1 1366.9 L256.8 1358.6 L251.8 1355.2 L247.1 1353.5 L246.8 1345.2 L243.4 1341.9 L242.6 1333.5 L240.1 1328.5 L238.4 1324.8 L230.4 1324.3 L230.1 1308.5 L228.4 1306.8 L226.7 1296.8 L222.6 1296.0 L220.9 1290.1 L218.4 1284.3 L216.7 1274.2 L215.1 1265.9 L210.9 1264.2 L210.0 1258.4 L207.5 1257.6 L207.5 1281.8 L205.5 1281.8 L205.5 1363.6 L203.4 1363.6 L203.4 1450.4 L201.7 1450.4 L201.7 1503.0 L199.5 1503.0 L199.5 1513.0 L195.9 1513.0 L195.9 1521.0 L193.0 1523.3 L190.3 1523.3 Z" fill="#0000ff" stroke="#0000ff" stroke-width="1.0" stroke-linejoin="miter"/>
<text transform="translate(176.7 81.3) scale(0.920 1)" text-anchor="end">13</text>
<text transform="translate(176.7 154.2) scale(0.920 1)" text-anchor="end">12.5</text>
<text transform="translate(176.7 227.0) scale(0.920 1)" text-anchor="end">12</text>
<text transform="translate(176.7 302.0) scale(0.920 1)" text-anchor="end">11.5</text>
<text transform="translate(176.7 375.0) scale(0.920 1)" text-anchor="end">11</text>
<text transform="translate(176.7 449.8) scale(0.920 1)" text-anchor="end">10.5</text>
<text transform="translate(187.4 486.2) scale(0.920 1)" text-anchor="middle">0</text>
<text transform="translate(477.1 486.2) scale(0.920 1)" text-anchor="middle">2000</text>
<text transform="translate(766.9 486.2) scale(0.920 1)" text-anchor="middle">4000</text>
<text transform="translate(1056.6 486.2) scale(0.920 1)" text-anchor="middle">6000</text>
<text transform="translate(1346.3 486.2) scale(0.920 1)" text-anchor="middle">8000</text>
<text transform="translate(1636.1 486.2) scale(0.920 1)" text-anchor="middle">10000</text>
<text transform="translate(1925.8 486.2) scale(0.920 1)" text-anchor="middle">12000</text>
<text transform="translate(1127.1 541.2) scale(0.920 1)" text-anchor="middle">Time(sec.)</text>
<text transform="translate(63.4 252.6) rotate(-90) scale(0.920 1)" text-anchor="middle">Voltage(V)</text>
<text transform="translate(176.7 625.9) scale(0.920 1)" text-anchor="end">40</text>
<text transform="translate(176.7 749.7) scale(0.920 1)" text-anchor="end">20</text>
<text transform="translate(176.7 873.1) scale(0.920 1)" text-anchor="end">0</text>
<text transform="translate(176.7 996.8) scale(0.920 1)" text-anchor="end">-20</text>
<text transform="translate(187.4 1033.3) scale(0.920 1)" text-anchor="middle">0</text>
<text transform="translate(477.1 1033.3) scale(0.920 1)" text-anchor="middle">2000</text>
<text transform="translate(766.9 1033.3) scale(0.920 1)" text-anchor="middle">4000</text>
<text transform="translate(1056.6 1033.3) scale(0.920 1)" text-anchor="middle">6000</text>
<text transform="translate(1346.3 1033.3) scale(0.920 1)" text-anchor="middle">8000</text>
<text transform="translate(1636.1 1033.3) scale(0.920 1)" text-anchor="middle">10000</text>
<text transform="translate(1925.8 1033.3) scale(0.920 1)" text-anchor="middle">12000</text>
<text transform="translate(1127.1 1088.3) scale(0.920 1)" text-anchor="middle">Time(sec.)</text>
<text transform="translate(85.7 795.0) rotate(-90) scale(0.920 1)" text-anchor="middle">Current(A)</text>
<text transform="translate(176.7 1172.9) scale(0.920 1)" text-anchor="end">27</text>
<text transform="translate(176.7 1296.4) scale(0.920 1)" text-anchor="end">26</text>
<text transform="translate(176.7 1419.9) scale(0.920 1)" text-anchor="end">25</text>
<text transform="translate(176.7 1543.6) scale(0.920 1)" text-anchor="end">24</text>
<text transform="translate(187.4 1580.1) scale(0.920 1)" text-anchor="middle">0</text>
<text transform="translate(477.1 1580.1) scale(0.920 1)" text-anchor="middle">2000</text>
<text transform="translate(766.9 1580.1) scale(0.920 1)" text-anchor="middle">4000</text>
<text transform="translate(1056.6 1580.1) scale(0.920 1)" text-anchor="middle">6000</text>
<text transform="translate(1346.3 1580.1) scale(0.920 1)" text-anchor="middle">8000</text>
<text transform="translate(1636.1 1580.1) scale(0.920 1)" text-anchor="middle">10000</text>
<text transform="translate(1925.8 1580.1) scale(0.920 1)" text-anchor="middle">12000</text>
<text transform="translate(1127.1 1635.1) scale(0.920 1)" text-anchor="middle">Time(sec.)</text>
<text transform="translate(100.0 1342.7) rotate(-90) scale(0.920 1)" text-anchor="middle"><tspan letter-spacing="0.08">Temperature</tspan><tspan dx="-2.2">(</tspan><tspan font-size="9" dx="6.2" dy="-19.0" stroke="#000" stroke-width="1.7">&#176;</tspan><tspan dx="2.6" dy="19.0">C)</tspan></text>
</svg>
</body></html>
